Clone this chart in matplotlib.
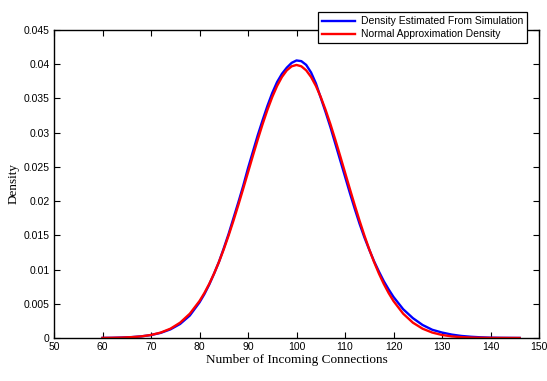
import numpy as np
import matplotlib.pyplot as plt

# --- values ---
x_vals = [60, 62, 64, 66, 68, 70, 72, 74, 76, 78, 80,
          81, 82, 83, 84, 85, 86, 87, 88, 89, 90, 91, 92, 93, 94, 95, 96, 97, 98, 99, 100,
          101, 102, 103, 104, 105, 106, 107, 108, 109, 110, 111, 112, 113, 114, 115, 116,
          117, 118, 119, 120,
          122, 124, 126, 128, 130, 132, 134, 136, 138, 140, 142, 144, 146]
sim_density = [0.00001, 0.00003, 0.00007, 0.00013, 0.00024, 0.00043, 0.00075, 0.00126, 0.00205,
               0.00328, 0.00520,
               0.00640, 0.00780, 0.00940, 0.01110, 0.01310, 0.01520, 0.01750, 0.01980, 0.02220,
               0.02480, 0.02720, 0.02960, 0.03180, 0.03390, 0.03580, 0.03740, 0.03860, 0.03950,
               0.04020, 0.04055,
               0.04045, 0.03990, 0.03880, 0.03720, 0.03510, 0.03300, 0.03080, 0.02840, 0.02600,
               0.02360, 0.02120, 0.01890, 0.01670, 0.01470, 0.01290, 0.01120, 0.00970, 0.00830,
               0.00710, 0.00600,
               0.00420, 0.00290, 0.00190, 0.00120, 0.00080, 0.00050, 0.00030, 0.00018, 0.00010,
               0.00005, 0.00003, 0.00002, 0.00001]
normal_density = [0.000013, 0.000029, 0.000061, 0.000123, 0.000238, 0.000443, 0.000792, 0.001358,
                  0.002239, 0.003547, 0.005399,
                  0.006562, 0.007895, 0.009405, 0.011092, 0.012952, 0.014973, 0.017137, 0.019419,
                  0.021785, 0.024197, 0.026609, 0.028969, 0.031225, 0.033322, 0.035207, 0.036827,
                  0.038139, 0.039104, 0.039695, 0.039894,
                  0.039695, 0.039104, 0.038139, 0.036827, 0.035207, 0.033322, 0.031225, 0.028969,
                  0.026609, 0.024197, 0.021785, 0.019419, 0.017137, 0.014973, 0.012952, 0.011092,
                  0.009405, 0.007895, 0.006562, 0.005399,
                  0.003547, 0.002239, 0.001358, 0.000792, 0.000443, 0.000238, 0.000123, 0.000061,
                  0.000029, 0.000013, 0.000006, 0.000002, 0.000001]

x_ticks = [50, 60, 70, 80, 90, 100, 110, 120, 130, 140, 150]
y_ticks = [0, 0.005, 0.01, 0.015, 0.02, 0.025, 0.03, 0.035, 0.04, 0.045]
y_tick_labels = ['0', '0.005', '0.01', '0.015', '0.02', '0.025', '0.03', '0.035', '0.04', '0.045']

plt.rcParams['font.family'] = 'Liberation Sans'

fig = plt.figure(figsize=(5.47, 3.81), dpi=100)
ax = fig.add_axes([54 / 547, 1 - 338 / 381, 485 / 547, 308 / 381])

ax.plot(x_vals, sim_density, color='#0000ff', linewidth=1.7, label='Density Estimated From Simulation')
ax.plot(x_vals, normal_density, color='#ff0000', linewidth=1.7, label='Normal Approximation Density')

ax.set_xlim(50, 150)
ax.set_ylim(0, 0.045)
ax.set_xticks(x_ticks)
ax.set_yticks(y_ticks)
ax.set_yticklabels(y_tick_labels)
ax.tick_params(direction='in', top=True, right=True, length=4, width=0.8, labelsize=7.5, pad=3)
for s in ax.spines.values():
    s.set_linewidth(1.0)

ax.set_xlabel('Number of Incoming Connections', family='Liberation Serif', fontsize=9.5, labelpad=1)
ax.set_ylabel('Density', family='Liberation Serif', fontsize=9.5, labelpad=3)

leg = ax.legend(loc='upper right', bbox_to_anchor=(527 / 547, 1 - 12 / 381),
                bbox_transform=fig.transFigure, borderaxespad=0, fontsize=7.5,
                fancybox=False, framealpha=1, edgecolor='black', handlelength=3.2,
                handletextpad=0.5, borderpad=0.4, labelspacing=0.3)
leg.get_frame().set_linewidth(0.9)

fig.savefig('out.png', dpi=100)
